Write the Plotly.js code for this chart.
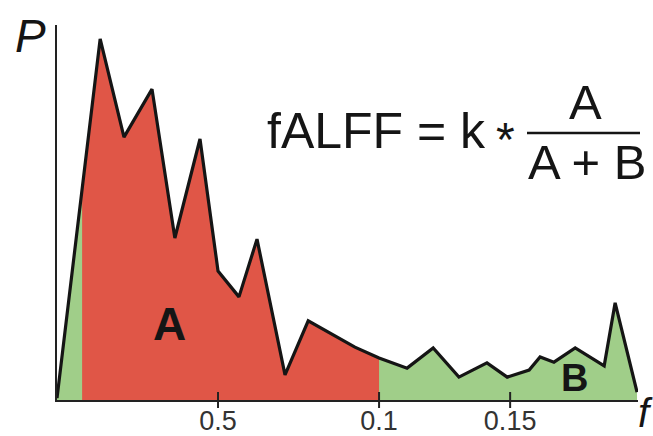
<!DOCTYPE html>
<html>
<head>
<meta charset="utf-8">
<script src="https://cdn.plot.ly/plotly-3.0.1.min.js"></script>
<style>html,body{margin:0;padding:0;background:#fff;}#chart{width:653px;height:436px;}</style>
</head>
<body>
<div id="chart"></div>
<script>
// Spectrum values
var freq  = [0.000, 0.0134, 0.0208, 0.0295, 0.0366, 0.0444, 0.0500, 0.0565, 0.0621, 0.0708, 0.0780, 0.0925, 0.1000,
             0.1087, 0.1168, 0.1248, 0.1335, 0.1398, 0.1466, 0.1500, 0.1543, 0.1609, 0.1699, 0.1733, 0.1801];
var power = [0.005, 0.963, 0.701, 0.829, 0.432, 0.696, 0.344, 0.275, 0.429, 0.067, 0.211, 0.141, 0.112,
             0.085, 0.139, 0.061, 0.099, 0.061, 0.080, 0.115, 0.101, 0.139, 0.091, 0.259, 0.021];
// Low-frequency band (area A)
var bandLow = 0.0078;
var bandHigh = 0.1000;
// Tick labels as printed in the figure
var tickVals = [0.05, 0.1, 0.1407];
var tickText = ['0.5', '0.1', '0.15'];

function yAt(x) {
  for (var i = 0; i < freq.length - 1; i++) {
    if (x >= freq[i] && x <= freq[i + 1]) {
      var t = (x - freq[i]) / (freq[i + 1] - freq[i]);
      return power[i] + t * (power[i + 1] - power[i]);
    }
  }
  return 0;
}
var bandX = [bandLow], bandY = [yAt(bandLow)];
for (var i = 0; i < freq.length; i++) {
  if (freq[i] > bandLow && freq[i] < bandHigh) { bandX.push(freq[i]); bandY.push(power[i]); }
}
bandX.push(bandHigh); bandY.push(yAt(bandHigh));

var RED = '#E05647', GREEN = '#A0CE89', INK = '#151515';

var traces = [
  {x: freq, y: power, type: 'scatter', mode: 'lines', fill: 'tozeroy', fillcolor: GREEN,
   line: {width: 0, color: GREEN}, hoverinfo: 'skip', showlegend: false},
  {x: bandX, y: bandY, type: 'scatter', mode: 'lines', fill: 'tozeroy', fillcolor: RED,
   line: {width: 0, color: RED}, hoverinfo: 'skip', showlegend: false},
  {x: freq, y: power, type: 'scatter', mode: 'lines',
   line: {width: 3.2, color: INK}, hoverinfo: 'skip', showlegend: false}
];

var FONT = 'Liberation Sans, Arial, sans-serif';
var shapes = [
  {type: 'line', xref: 'paper', yref: 'paper', x0: (527 - 57) / 581, x1: (640 - 57) / 581,
   y0: (400 - 133) / 375, y1: (400 - 133) / 375, line: {color: INK, width: 2.5}}
];
// crossing tick marks at the tick positions
tickVals.forEach(function (v) {
  shapes.push({type: 'line', xref: 'x', yref: 'paper', x0: v, x1: v, y0: -8 / 375, y1: 8 / 375,
               line: {color: '#222', width: 2}});
});

var layout = {
  width: 653, height: 436,
  margin: {l: 57, r: 15, t: 25, b: 36},
  paper_bgcolor: '#fff', plot_bgcolor: '#fff',
  showlegend: false,
  xaxis: {range: [0, 0.1804], showgrid: false, zeroline: false, showline: true, linecolor: '#222', linewidth: 2,
          tickvals: tickVals, ticktext: tickText, ticks: '', ticklen: 0, ticklabelstandoff: -4,
          tickfont: {family: FONT, size: 27, color: '#333'}, fixedrange: true},
  yaxis: {range: [0, 1], showgrid: false, zeroline: false, showline: true, linecolor: '#222', linewidth: 2,
          showticklabels: false, ticks: '', fixedrange: true},
  shapes: shapes,
  annotations: [
    {text: 'P', xref: 'paper', yref: 'paper', x: (30 - 57) / 581, y: (400 - 36) / 375, showarrow: false,
     xanchor: 'center', yanchor: 'middle', font: {family: FONT, size: 46, color: INK, style: 'italic'}},
    {text: 'f', xref: 'paper', yref: 'paper', x: (645 - 57) / 581, y: (400 - 436) / 375, showarrow: false,
     xanchor: 'center', yanchor: 'bottom', borderpad: 0, font: {family: FONT, size: 40, color: INK, style: 'italic'}},
    {text: 'fALFF = k', xref: 'paper', yref: 'paper', x: (265 - 57) / 581, y: (400 - 131) / 375, showarrow: false,
     xanchor: 'left', yanchor: 'middle', font: {family: FONT, size: 50, color: INK}},
    {text: '*', xref: 'paper', yref: 'paper', x: (505 - 57) / 581, y: (400 - 139) / 375, showarrow: false,
     xanchor: 'center', yanchor: 'middle', font: {family: FONT, size: 48, color: INK}},
    {text: 'A', xref: 'paper', yref: 'paper', x: (585 - 57) / 581, y: (400 - 102) / 375, showarrow: false,
     xanchor: 'center', yanchor: 'middle', font: {family: FONT, size: 49, color: INK}},
    {text: 'A + B', xref: 'paper', yref: 'paper', x: (587 - 57) / 581, y: (400 - 162) / 375, showarrow: false,
     xanchor: 'center', yanchor: 'middle', font: {family: FONT, size: 49, color: INK}},
    {text: '<b>A</b>', xref: 'paper', yref: 'paper', x: (169 - 57) / 581, y: (400 - 324) / 375, showarrow: false,
     xanchor: 'center', yanchor: 'middle', font: {family: FONT, size: 46, color: INK}},
    {text: '<b>B</b>', xref: 'paper', yref: 'paper', x: (574 - 57) / 581, y: (400 - 378) / 375, showarrow: false,
     xanchor: 'center', yanchor: 'middle', font: {family: FONT, size: 38, color: INK}}
  ]
};

Plotly.newPlot('chart', traces, layout, {staticPlot: true, displayModeBar: false});
</script>
</body>
</html>
